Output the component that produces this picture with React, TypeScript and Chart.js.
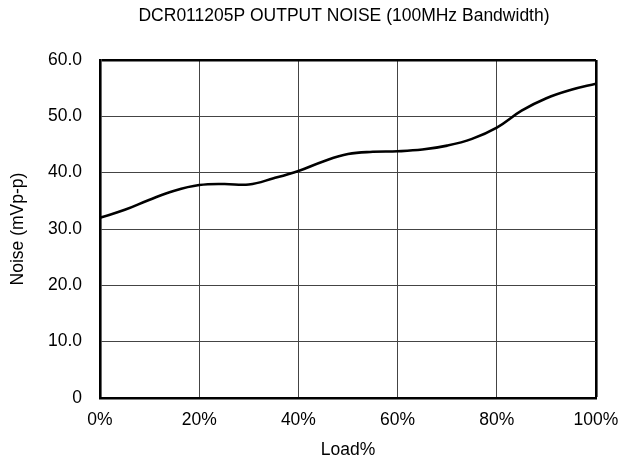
import React, { useEffect, useRef } from "react";
import { Chart, registerables } from "chart.js";

Chart.register(...registerables);

const chartTitle = "DCR011205P OUTPUT NOISE (100MHz Bandwidth)";
const xTitle = "Load%";
const yTitle = "Noise (mVp-p)";
const loadPct = [0, 5, 10, 15, 20, 25, 30, 35, 40, 45, 50, 55, 60, 65, 70, 75, 80, 85, 90, 95, 100];
const noiseMv = [32.0, 33.4, 35.2, 36.8, 37.8, 38.0, 37.9, 39.0, 40.3, 42.0, 43.3, 43.7, 43.8, 44.1, 44.8, 46.0, 48.0, 51.0, 53.2, 54.7, 55.8];
const yTicks = [0, 10, 20, 30, 40, 50, 60];
const xTicks = [0, 20, 40, 60, 80, 100];

const FONT = "'Liberation Sans', Arial, sans-serif";
const FS = 17.5;

export default function App() {
  const ref = useRef<HTMLCanvasElement | null>(null);
  useEffect(() => {
    if (!ref.current) return;
    const titlePlugin = {
      id: "topTitle",
      afterDraw(chart: any) {
        const { ctx, chartArea } = chart;
        ctx.save();
        ctx.fillStyle = "#000";
        ctx.font = `${FS}px ${FONT}`;
        ctx.textAlign = "center";
        ctx.textBaseline = "middle";
        ctx.fillText(chartTitle, (chartArea.left + chartArea.right) / 2 - 4, 16);
        ctx.restore();
      },
    };
    const chart = new Chart(ref.current, {
      type: "line",
      data: {
        datasets: [
          {
            data: loadPct.map((x, i) => ({ x, y: noiseMv[i] })),
            borderColor: "#000",
            borderWidth: 2.6,
            pointRadius: 0,
            tension: 0.4,
            fill: false,
          },
        ],
      },
      options: {
        animation: false,
        responsive: false,
        maintainAspectRatio: false,
        layout: { padding: { top: 60, right: 41, left: 0, bottom: 0 } },
        plugins: { legend: { display: false }, tooltip: { enabled: false }, title: { display: false } },
        scales: {
          x: {
            type: "linear",
            min: 0,
            max: 100,
            afterBuildTicks: (s: any) => {
              s.ticks = xTicks.map((v) => ({ value: v }));
            },
            afterFit: (s: any) => {
              s.height = 67;
            },
            ticks: {
              color: "#000",
              font: { family: FONT, size: FS },
              padding: 12,
              maxRotation: 0,
              callback: (v: any) => `${v}%`,
            },
            grid: {
              drawTicks: false,
              color: (c: any) => (c.tick && c.tick.value === 100 ? "#000" : "#444"),
              lineWidth: (c: any) => (c.tick && c.tick.value === 100 ? 2.6 : 1),
            },
            border: { color: "#000", width: 2.6 },
            title: {
              display: true,
              text: xTitle,
              color: "#000",
              font: { family: FONT, size: FS },
              padding: { top: 0, bottom: 4 },
            },
          },
          y: {
            min: 0,
            max: 60,
            afterBuildTicks: (s: any) => {
              s.ticks = yTicks.map((v) => ({ value: v }));
            },
            afterFit: (s: any) => {
              s.width = 100;
            },
            ticks: {
              color: "#000",
              font: { family: FONT, size: FS },
              padding: 18,
              callback: (v: any) => (v === 0 ? "0" : Number(v).toFixed(1)),
            },
            grid: {
              drawTicks: false,
              color: (c: any) => (c.tick && c.tick.value === 60 ? "#000" : "#444"),
              lineWidth: (c: any) => (c.tick && c.tick.value === 60 ? 2.6 : 1),
            },
            border: { color: "#000", width: 2.6 },
            title: {
              display: true,
              text: yTitle,
              color: "#000",
              font: { family: FONT, size: FS },
              padding: { top: 8, bottom: 0 },
            },
          },
        },
      },
      plugins: [titlePlugin],
    } as any);
    return () => chart.destroy();
  }, []);
  return (
    <div style={{ position: "fixed", left: 0, top: 0, width: 637, height: 465, background: "#fff" }}>
      <canvas ref={ref} width={637} height={465} style={{ width: 637, height: 465 }} />
    </div>
  );
}
